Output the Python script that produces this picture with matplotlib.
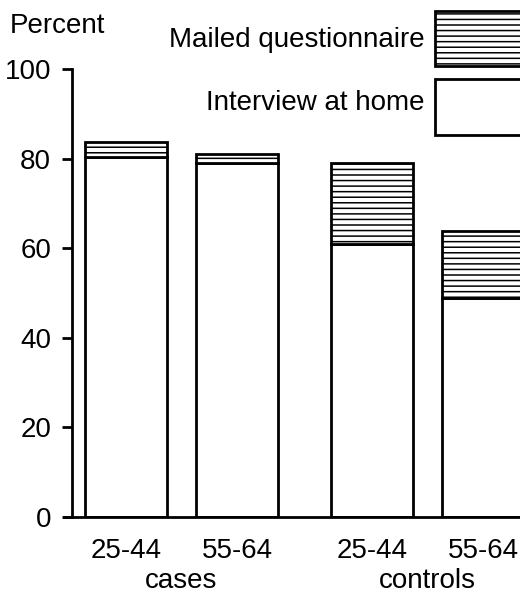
import matplotlib.pyplot as plt
from matplotlib.patches import Rectangle

plt.rcParams['font.family'] = ['Liberation Sans', 'DejaVu Sans']
plt.rcParams['hatch.linewidth'] = 1.1

# data
age_groups = ['25-44', '55-64', '25-44', '55-64']
groups = ['cases', 'controls']
interview_home = [80.3, 79.0, 61.0, 48.8]
mailed_total = [83.6, 81.0, 79.0, 63.9]
mailed = [t - h for t, h in zip(mailed_total, interview_home)]

xpos = [0, 1.35, 3.0, 4.35]
bar_w = 1.0
fs = 20

fig = plt.figure(figsize=(5.2, 5.98), dpi=100)
ax = fig.add_axes([72 / 520, 81 / 598, 448 / 520, 448 / 598])

ax.bar(xpos, interview_home, width=bar_w, color='white', edgecolor='black', linewidth=2.0)
ax.bar(xpos, mailed, width=bar_w, bottom=interview_home, color='white',
       edgecolor='black', linewidth=2.0, hatch='---')

ax.set_xlim(-0.66, 4.80)
ax.set_ylim(0, 100)
ax.spines['top'].set_visible(False)
ax.spines['right'].set_visible(False)
ax.spines['left'].set_linewidth(2.0)
ax.spines['bottom'].set_linewidth(2.0)
ax.spines['bottom'].set_bounds(-0.76, 4.80)
ax.set_yticks([0, 20, 40, 60, 80, 100])
ax.tick_params(axis='y', length=7, width=2.0, labelsize=fs, pad=8)
ax.set_xticks(xpos)
ax.set_xticklabels(age_groups)
ax.tick_params(axis='x', length=0, labelsize=fs, pad=15)

# group labels under pairs of bars
for i, g in enumerate(groups):
    xc = (xpos[2 * i] + xpos[2 * i + 1]) / 2
    ax.text(xc, -0.143, g, transform=ax.get_xaxis_transform(), ha='center', va='center',
            fontsize=fs)

fig.text(10 / 520, 1 - 26 / 598, 'Percent', ha='left', va='center', fontsize=fs)

# legend boxes on the right, clipped by the figure edge
fig.patches.append(Rectangle((435 / 520, 1 - 66 / 598), 90 / 520, 55 / 598,
                             transform=fig.transFigure, facecolor='white',
                             edgecolor='black', linewidth=2.0, hatch='---'))
fig.patches.append(Rectangle((435 / 520, 1 - 135 / 598), 90 / 520, 56 / 598,
                             transform=fig.transFigure, facecolor='white',
                             edgecolor='black', linewidth=2.0))
fig.text(425 / 520, 1 - 40 / 598, 'Mailed questionnaire', ha='right', va='center', fontsize=fs)
fig.text(425 / 520, 1 - 103 / 598, 'Interview at home', ha='right', va='center', fontsize=fs)

fig.savefig('out.png', dpi=100)
